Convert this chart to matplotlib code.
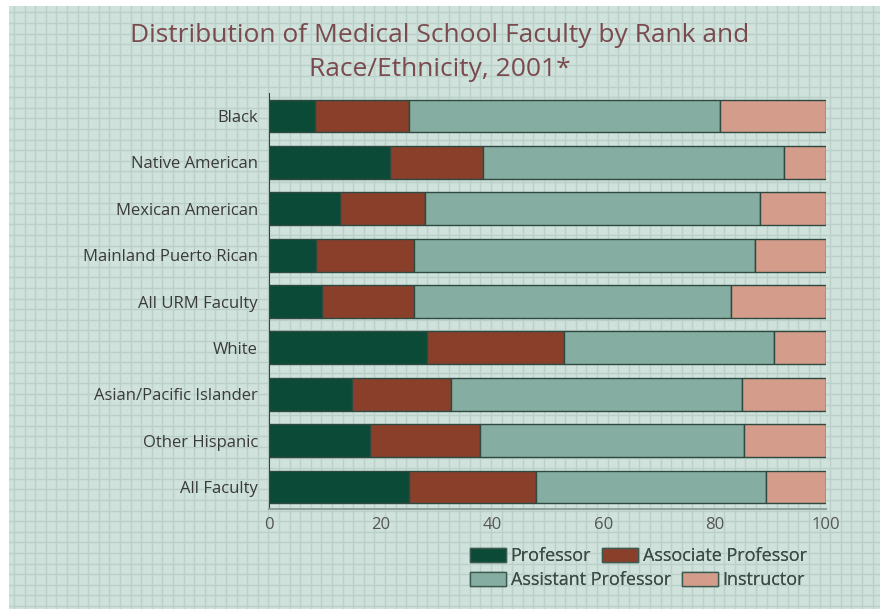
import matplotlib.pyplot as plt
from matplotlib.patches import Patch
import numpy as np

plt.rcParams['font.family'] = ['Open Sans', 'DejaVu Sans']

groups = ['Black', 'Native American', 'Mexican American', 'Mainland Puerto Rican',
          'All URM Faculty', 'White', 'Asian/Pacific Islander', 'Other Hispanic',
          'All Faculty']
professor = [8.3, 21.8, 12.7, 8.5, 9.5, 28.4, 14.9, 18.2, 25.2]
associate = [16.8, 16.7, 15.3, 17.5, 16.5, 24.6, 17.8, 19.7, 22.8]
assistant = [55.9, 53.9, 60.2, 61.3, 56.9, 37.6, 52.2, 47.4, 41.2]
instructor = [19.0, 7.6, 11.8, 12.7, 17.1, 9.4, 15.1, 14.7, 10.8]

ranks = ['Professor', 'Associate Professor', 'Assistant Professor', 'Instructor']
colors = ['#0b4a36', '#8a3f2b', '#86ada1', '#d39c8b']

W, H = 880, 609
fig = plt.figure(figsize=(W / 100, H / 100), dpi=100)
fig.patch.set_facecolor('white')

# graph-paper background
bg = fig.add_axes([9 / W, 0, 1 - 9 / W, 1 - 6 / H])
bg.set_facecolor('#cfe2db')
bg.set_xlim(0, W - 9)
bg.set_ylim(0, H - 6)
for gx in np.arange(5, W, 10.6):
    bg.axvline(gx, color='#bad0c8', lw=1, zorder=0)
for gy in np.arange(3, H, 10.6):
    bg.axhline(gy, color='#bad0c8', lw=1, zorder=0)
bg.set_xticks([])
bg.set_yticks([])
for s in bg.spines.values():
    s.set_visible(False)

ax = fig.add_axes([269 / W, 100 / H, 557 / W, 416 / H])
ax.patch.set_alpha(0)

y = np.arange(len(groups))
left = np.zeros(len(groups))
for vals, c, name in zip([professor, associate, assistant, instructor], colors, ranks):
    ax.barh(y, vals, left=left, height=0.71, color=c, edgecolor='#2e4a40',
            linewidth=1, label=name)
    left += np.array(vals)

ax.set_xlim(0, 100)
ax.set_ylim(8.474, -0.496)
ax.set_yticks(y)
ax.set_yticklabels(groups, fontsize=12, color='#3a3a3a')
ax.set_xticks([0, 20, 40, 60, 80, 100])
ax.tick_params(axis='x', length=0, pad=6, labelsize=12, labelcolor='#555555')
ax.tick_params(axis='y', length=0, pad=8)
for side in ['top', 'right']:
    ax.spines[side].set_visible(False)
ax.spines['left'].set_color('#2e4a40')
ax.spines['bottom'].set_color('#8fa39c')
ax.spines['bottom'].set_linewidth(1.5)

fig.text(0.5, 0.962, 'Distribution of Medical School Faculty by Rank and\nRace/Ethnicity, 2001*',
         ha='center', va='top', fontsize=19, color='#7a4a4e', linespacing=1.45)

# legend: two rows laid out independently, as in the original
rows = [[0, 1], [2, 3]]
row_y = [556, 580]
for idx, ry in zip(rows, row_y):
    handles = [Patch(facecolor=colors[i], edgecolor='#3d5a50', linewidth=1) for i in idx]
    labels = [ranks[i] for i in idx]
    leg = fig.legend(handles, labels, ncol=2, frameon=False, loc='center left',
                     bbox_to_anchor=(470 / W, (H - ry) / H), fontsize=13,
                     handlelength=2.0, handleheight=0.8, handletextpad=0.25,
                     columnspacing=0.6, borderpad=0, borderaxespad=0,
                     labelcolor='#3d4a45')
    fig.add_artist(leg)

fig.savefig('out.png', dpi=100)
